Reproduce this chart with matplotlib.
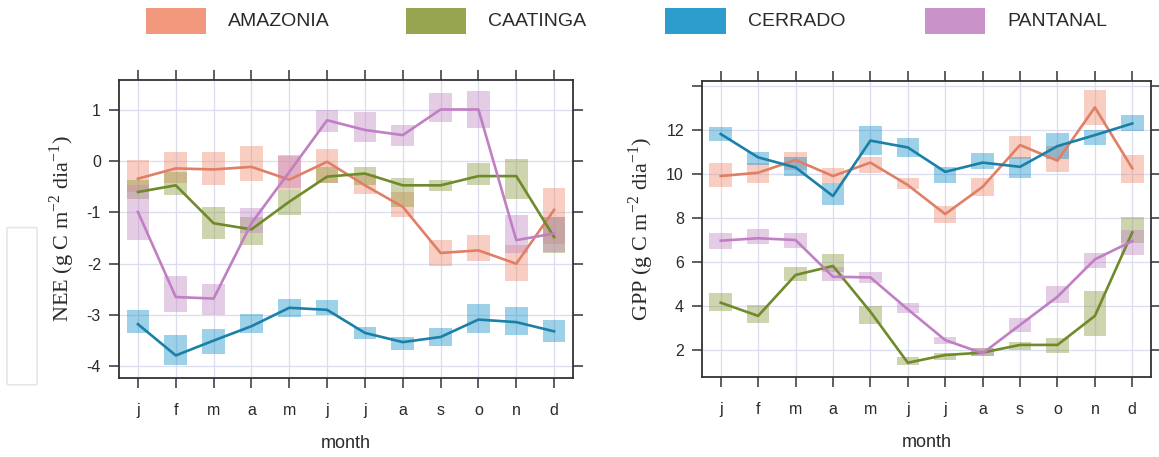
import numpy as np
import matplotlib.pyplot as plt
from matplotlib.patches import Rectangle, FancyBboxPatch
from matplotlib import font_manager

# fonts: narrow sans for ticks/legend, serif for the y titles
names = {f.name for f in font_manager.fontManager.ttflist}
sans = 'Liberation Sans Narrow' if 'Liberation Sans Narrow' in names else 'Liberation Sans'
plt.rcParams['font.family'] = [sans, 'DejaVu Sans']
plt.rcParams['mathtext.fontset'] = 'custom'
plt.rcParams['mathtext.rm'] = 'Liberation Serif'

months = ['j', 'f', 'm', 'a', 'm', 'j', 'j', 'a', 's', 'o', 'n', 'd']
biomes = ['AMAZONIA', 'CAATINGA', 'CERRADO', 'PANTANAL']
fill_cols = ['#f08c6e', '#8c9a3c', '#1592c8', '#c386c3']
line_cols = ['#e07f66', '#6f8a2a', '#1a80a8', '#c07fc4']

# NEE (g C m-2 dia-1): monthly value, box low, box high
nee_mid = {
    'AMAZONIA': [-0.34, -0.14, -0.16, -0.11, -0.36, -0.01, -0.47, -0.89, -1.79, -1.74, -2.00, -0.95],
    'CAATINGA': [-0.60, -0.47, -1.21, -1.33, -0.79, -0.30, -0.24, -0.47, -0.47, -0.29, -0.29, -1.48],
    'CERRADO':  [-3.18, -3.79, -3.50, -3.22, -2.86, -2.90, -3.35, -3.53, -3.43, -3.09, -3.14, -3.32],
    'PANTANAL': [-0.99, -2.65, -2.68, -1.21, -0.21, 0.80, 0.61, 0.51, 1.01, 1.01, -1.54, -1.41],
}
nee_lo = {
    'AMAZONIA': [-0.60, -0.42, -0.47, -0.39, -0.56, -0.43, -0.63, -1.08, -2.05, -1.94, -2.34, -1.61],
    'CAATINGA': [-0.73, -0.66, -1.52, -1.63, -1.05, -0.42, -0.47, -0.89, -0.58, -0.47, -0.73, -1.80],
    'CERRADO':  [-3.36, -3.98, -3.76, -3.36, -3.04, -3.01, -3.46, -3.69, -3.61, -3.36, -3.40, -3.53],
    'PANTANAL': [-1.54, -2.94, -3.00, -1.41, -0.53, 0.58, 0.38, 0.30, 0.77, 0.64, -1.80, -1.77],
}
nee_hi = {
    'AMAZONIA': [0.02, 0.18, 0.19, 0.30, 0.10, 0.23, -0.24, -0.60, -1.54, -1.43, -1.64, -0.53],
    'CAATINGA': [-0.37, -0.21, -0.90, -1.08, -0.56, -0.11, -0.12, -0.32, -0.36, -0.04, 0.04, -1.08],
    'CERRADO':  [-2.91, -3.40, -3.27, -2.99, -2.68, -2.71, -3.23, -3.43, -3.25, -2.78, -2.84, -3.09],
    'PANTANAL': [-0.47, -2.24, -2.40, -0.91, 0.12, 1.00, 0.97, 0.71, 1.33, 1.38, -1.05, -1.08],
}

# GPP (g C m-2 dia-1)
gpp_mid = {
    'AMAZONIA': [9.91, 10.06, 10.64, 9.91, 10.52, 9.50, 8.18, 9.42, 11.32, 10.61, 13.03, 10.26],
    'CAATINGA': [4.15, 3.55, 5.41, 5.82, 3.74, 1.42, 1.77, 1.88, 2.23, 2.23, 3.55, 7.35],
    'CERRADO':  [11.82, 10.76, 10.30, 9.00, 11.52, 11.21, 10.10, 10.52, 10.33, 11.27, 11.77, 12.30],
    'PANTANAL': [6.97, 7.08, 7.00, 5.33, 5.30, 3.85, 2.45, 1.85, 3.14, 4.42, 6.12, 6.95],
}
gpp_lo = {
    'AMAZONIA': [9.39, 9.58, 10.20, 9.58, 10.03, 9.30, 7.76, 9.00, 10.67, 10.10, 12.23, 9.60],
    'CAATINGA': [3.79, 3.24, 5.15, 5.56, 3.18, 1.32, 1.55, 1.73, 2.00, 1.85, 2.64, 6.85],
    'CERRADO':  [11.52, 10.40, 9.90, 8.60, 10.86, 10.79, 9.58, 10.21, 9.80, 10.67, 11.32, 11.97],
    'PANTANAL': [6.58, 6.82, 6.62, 5.15, 5.03, 3.67, 2.27, 1.73, 2.83, 4.12, 5.71, 6.32],
}
gpp_hi = {
    'AMAZONIA': [10.52, 10.50, 11.00, 10.26, 10.76, 9.80, 8.55, 9.80, 11.73, 11.27, 13.80, 10.86],
    'CAATINGA': [4.58, 4.05, 5.76, 6.36, 4.00, 1.70, 1.85, 2.08, 2.38, 2.53, 4.70, 8.06],
    'CERRADO':  [12.15, 11.00, 10.76, 9.58, 12.18, 11.62, 10.33, 10.97, 10.76, 11.85, 12.00, 12.68],
    'PANTANAL': [7.33, 7.48, 7.30, 5.79, 5.56, 4.12, 2.60, 2.08, 3.44, 4.91, 6.42, 7.45],
}

nee_ticks = [-4, -3, -2, -1, 0, 1]
gpp_ticks = [2, 4, 6, 8, 10, 12, 14]
gpp_tick_labels = ['2', '4', '6', '8', '10', '12', '']

fig = plt.figure(figsize=(11.59, 4.57), dpi=100)
ax1 = fig.add_axes([0.1027, 0.1729, 0.3917, 0.652])
ax2 = fig.add_axes([0.6057, 0.175, 0.3874, 0.6477])

x = np.arange(1, 13)


def panel(ax, mid, lo, hi, ylim, ticks, tlabels, ylabel):
    for i, b in enumerate(biomes):
        low = np.array(lo[b])
        high = np.array(hi[b])
        ax.bar(x, high - low, bottom=low, width=0.6, color=fill_cols[i],
               alpha=0.42, linewidth=0, zorder=2)
    for i, b in enumerate(biomes):
        ax.plot(x, mid[b], color=line_cols[i], lw=1.9, zorder=3)
    ax.set_xlim(0.5, 12.5)
    ax.set_ylim(*ylim)
    ax.set_xticks(x)
    ax.set_xticklabels(months)
    ax.set_yticks(ticks)
    ax.set_yticklabels(tlabels)
    ax.grid(True, color='#dcdcef', lw=0.9, zorder=0)
    ax.set_axisbelow(True)
    ax.tick_params(direction='out', length=7, width=1.1, color='#333333',
                   labelsize=11.5, labelcolor='#2a2a2a',
                   top=True, right=True)
    ax.tick_params(axis='x', pad=11)
    ax.tick_params(axis='y', pad=6)
    for s in ax.spines.values():
        s.set_color('#333333')
        s.set_linewidth(1.3)
    ax.set_xlabel('month', fontsize=13, color='#2a2a2a', labelpad=12)
    ax.set_ylabel(ylabel, fontsize=16, color='#2a2a2a', family='Liberation Serif',
                  labelpad=7)


panel(ax1, nee_mid, nee_lo, nee_hi, (-4.23, 1.585), nee_ticks,
      [str(t) for t in nee_ticks], r'NEE (g C m$^{-2}$ dia$^{-1}$)')
panel(ax2, gpp_mid, gpp_lo, gpp_hi, (0.77, 14.23), gpp_ticks,
      gpp_tick_labels, r'GPP (g C m$^{-2}$ dia$^{-1}$)')

# legend across the top
leg_x = [0.126, 0.350, 0.574, 0.798]
for i, b in enumerate(biomes):
    fig.patches.append(Rectangle((leg_x[i], 0.925), 0.052, 0.058,
                                 transform=fig.transFigure, color=fill_cols[i],
                                 alpha=0.9, lw=0))
    fig.text(leg_x[i] + 0.071, 0.954, b, fontsize=14, va='center', ha='left',
             color='#2a2a2a')

# faint box at the left margin
fig.patches.append(FancyBboxPatch((0.008, 0.16), 0.022, 0.34,
                                  boxstyle='round,pad=0.002',
                                  transform=fig.transFigure, fill=False,
                                  edgecolor='#e6e6e6', lw=1.2))

fig.savefig('out.png', dpi=100)
